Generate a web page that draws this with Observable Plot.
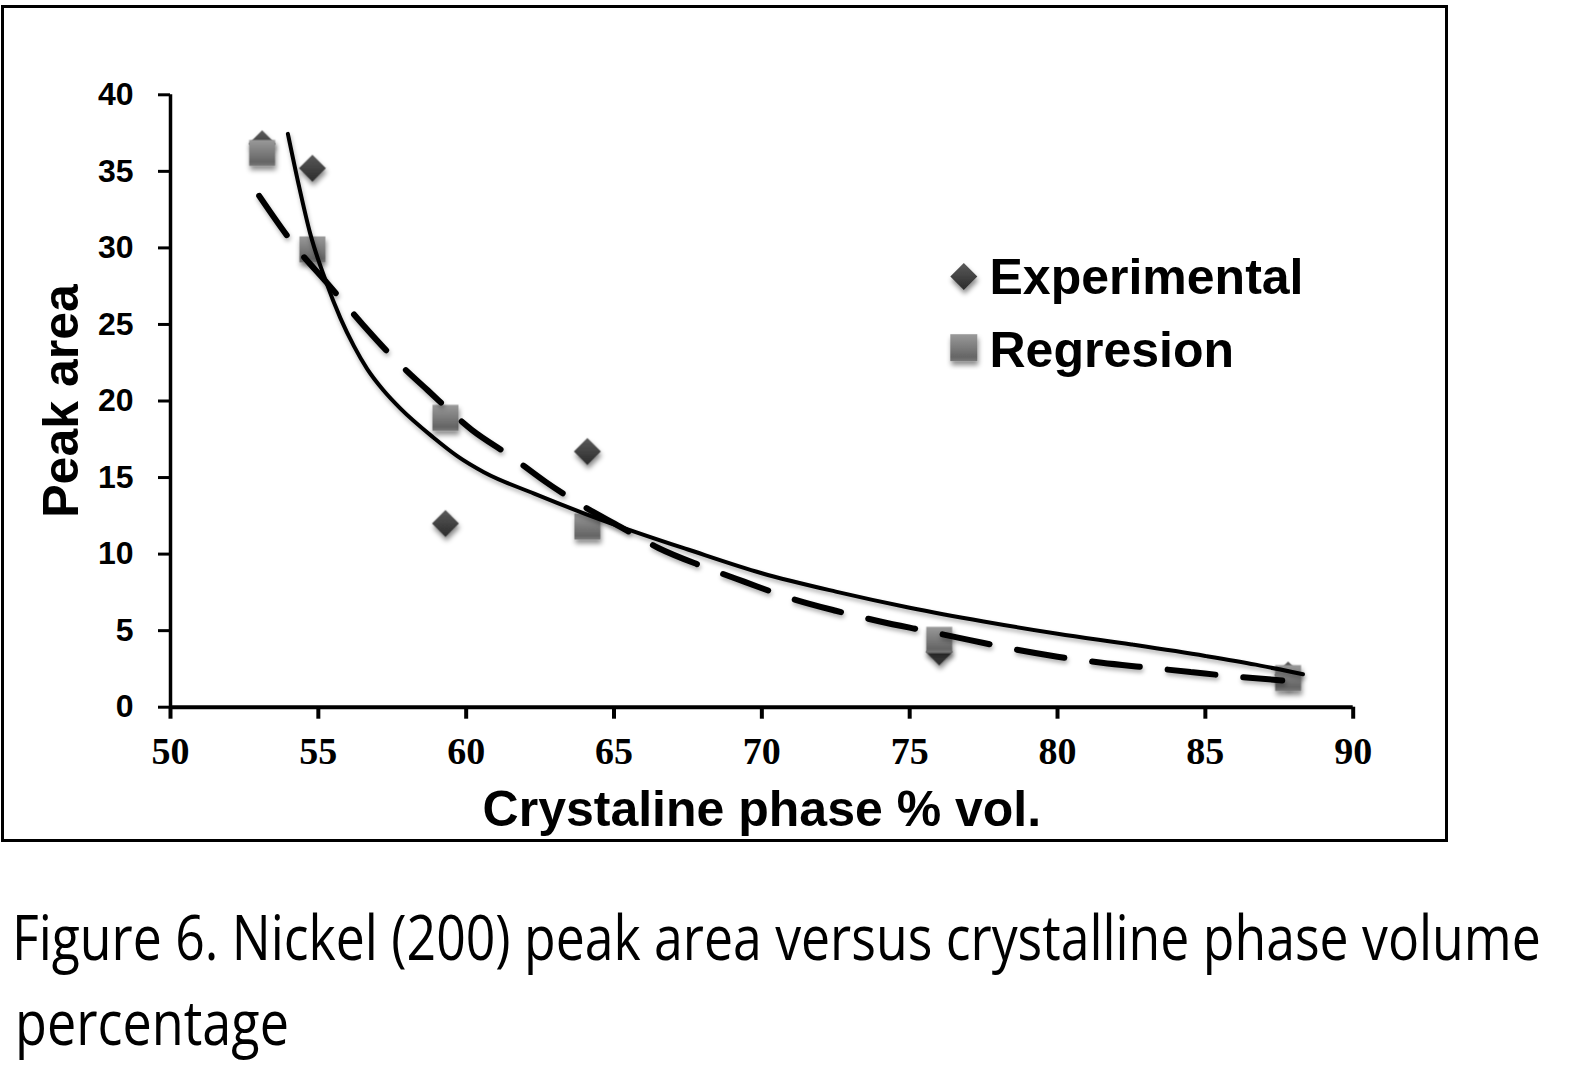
<!DOCTYPE html>
<html>
<head>
<meta charset="utf-8">
<script src="https://cdn.jsdelivr.net/npm/d3@7"></script>
<script src="https://cdn.jsdelivr.net/npm/@observablehq/plot@0.6"></script>
<style>
  html, body { margin: 0; padding: 0; background: #fff; }
  body { width: 1594px; height: 1082px; position: relative; overflow: hidden; }
  #frame { position: absolute; left: 1px; top: 5px; width: 1447px; height: 837px; border: 3px solid #000; box-sizing: border-box; }
  #chart { position: absolute; left: 0; top: 0; }
  #legend, #caption { position: absolute; left: 0; top: 0; overflow: visible; }
</style>
</head>
<body>
<div id="frame"></div>
<div id="chart"></div>
<svg id="legend" width="1594" height="1082"></svg>
<svg id="caption" width="1594" height="1082"></svg>
<script>
// ---- data ----
const crystalline = [53.1, 54.8, 59.3, 64.1, 76.0, 87.8];
const experimental = [36.8, 35.2, 12.0, 16.7, 3.6, 2.1];
const regression = [36.2, 29.9, 18.9, 11.8, 4.4, 1.9];

// solid trend line
const solidX = [53.97, 54.35, 54.73, 55.24, 55.75, 56.2, 56.65, 57.2, 57.78, 58.9, 59.7, 60.6, 62.3, 64.0, 65.2, 67.5, 70.0, 72.5, 75.0, 77.5, 80.0, 82.5, 85.0, 86.7, 88.3];
const solidY = [37.45, 34.0, 30.9, 27.9, 25.4, 23.6, 22.1, 20.7, 19.5, 17.6, 16.4, 15.35, 13.95, 12.65, 11.8, 10.3, 8.75, 7.55, 6.5, 5.6, 4.8, 4.1, 3.35, 2.78, 2.15];

// dashed trend line
const dashX = [53.0, 54.3, 55.3, 56.5, 57.6, 58.7, 60.2, 61.5, 62.7, 63.9, 65.2, 66.5, 68.0, 69.4, 71.0, 72.5, 74.0, 75.5, 77.0, 78.5, 80.0, 81.5, 83.0, 84.5, 86.0, 87.6];
const dashY = [33.4, 29.9, 27.7, 25.0, 22.7, 20.7, 18.1, 16.4, 14.7, 13.2, 11.8, 10.4, 9.2, 8.2, 7.1, 6.3, 5.6, 5.0, 4.4, 3.8, 3.3, 2.9, 2.6, 2.3, 2.0, 1.75];

const xTicks = [50, 55, 60, 65, 70, 75, 80, 85, 90];
const yTicks = [0, 5, 10, 15, 20, 25, 30, 35, 40];

const xTitle = "Crystaline phase % vol.";
const yTitle = "Peak area";
const seriesNames = ["Experimental", "Regresion"];
const captionLines = ["Figure 6. Nickel (200) peak area versus crystalline phase volume", "percentage"];

// ---- tables built from the arrays ----
const expRows = crystalline.map((x, i) => ({x, y: experimental[i]}));
const regRows = crystalline.map((x, i) => ({x, y: regression[i]}));
const solidRows = solidX.map((x, i) => ({x, y: solidY[i]}));
const dashRows = dashX.map((x, i) => ({x, y: dashY[i]}));

const sans = "'Liberation Sans', Arial, sans-serif";
const serif = "'Liberation Serif', 'Times New Roman', serif";

const chart = Plot.plot({
  width: 1450,
  height: 840,
  marginLeft: 170,
  marginRight: 97.3,
  marginTop: 94.3,
  marginBottom: 133.3,
  style: {background: "transparent", overflow: "visible", color: "#000"},
  x: {domain: [50, 90], label: null},
  y: {domain: [0, 40], label: null},
  marks: [
    Plot.axisY({ticks: yTicks, tickSize: 12, tickPadding: 25, strokeWidth: 3, fontSize: 32, fontWeight: "bold", fontFamily: sans, label: null}),
    Plot.axisX({ticks: xTicks, tickSize: 12, tickPadding: 18, strokeWidth: 4, fontSize: 38, fontWeight: "bold", fontFamily: serif, label: null}),
    Plot.ruleX([50], {strokeWidth: 3.5}),
    Plot.ruleY([0], {strokeWidth: 4}),
    Plot.dot(expRows, {x: "x", y: "y", symbol: "diamond2", r: 12.16, fill: "url(#gradDiamond)", stroke: "none"}),
    Plot.dot(regRows, {x: "x", y: "y", symbol: "square", r: 14.67, fill: "url(#gradSquare)", stroke: "none"}),
    Plot.line(dashRows, {x: "x", y: "y", curve: "monotone-x", stroke: "#000", strokeWidth: 6, strokeDasharray: "48,28", strokeLinecap: "round"}),
    Plot.line(solidRows, {x: "x", y: "y", curve: "monotone-x", stroke: "#000", strokeWidth: 4}),
    Plot.text([xTitle], {text: d => d, frameAnchor: "bottom", textAnchor: "middle", lineAnchor: "bottom", dy: 118.3, fontSize: 50, fontWeight: "bold", fontFamily: sans, fill: "#000"}),
    Plot.text([yTitle], {text: d => d, frameAnchor: "left", textAnchor: "middle", rotate: -90, lineAnchor: "bottom", dx: -93, fontSize: 50, fontWeight: "bold", fontFamily: sans, fill: "#000"})
  ]
});
document.getElementById("chart").appendChild(chart);

// gradients & soft shadows (Excel-like look)
const svg = d3.select(chart);
const defs = svg.insert("defs", ":first-child");
const gd = defs.append("linearGradient").attr("id", "gradDiamond").attr("x1", 0).attr("y1", 0).attr("x2", 0).attr("y2", 1);
gd.append("stop").attr("offset", "0%").attr("stop-color", "#5a5a5a");
gd.append("stop").attr("offset", "100%").attr("stop-color", "#2b2b2b");
const gs = defs.append("linearGradient").attr("id", "gradSquare").attr("x1", 0).attr("y1", 0).attr("x2", 0).attr("y2", 1);
gs.append("stop").attr("offset", "0%").attr("stop-color", "#9a9a9a");
gs.append("stop").attr("offset", "85%").attr("stop-color", "#656565");
gs.append("stop").attr("offset", "100%").attr("stop-color", "#7a7a7a");
const f = defs.append("filter").attr("id", "shadow").attr("x", "-30%").attr("y", "-30%").attr("width", "160%").attr("height", "160%");
f.append("feDropShadow").attr("dx", 1).attr("dy", 4).attr("stdDeviation", 2.5).attr("flood-color", "#000").attr("flood-opacity", 0.45);
const fl = defs.append("filter").attr("id", "shadowLine").attr("x", "-5%").attr("y", "-5%").attr("width", "110%").attr("height", "110%");
fl.append("feDropShadow").attr("dx", 1).attr("dy", 3).attr("stdDeviation", 2).attr("flood-color", "#000").attr("flood-opacity", 0.3);
svg.selectAll('g[aria-label="dot"]').attr("filter", "url(#shadow)");
svg.selectAll('g[aria-label="line"]').attr("filter", "url(#shadowLine)");

// legend (inside the chart frame)
const legend = d3.select("#legend");
const legendItems = [
  {name: seriesNames[0], symbol: d3.symbolDiamond2, size: 464.7, fill: "url(#gradDiamond)", cy: 276.5, baseline: 294},
  {name: seriesNames[1], symbol: d3.symbolSquare, size: 729, fill: "url(#gradSquare)", cy: 347.7, baseline: 366.7}
];
for (const it of legendItems) {
  legend.append("path")
    .attr("transform", `translate(963.8,${it.cy})`)
    .attr("d", d3.symbol(it.symbol, it.size)())
    .attr("fill", it.fill)
    .attr("filter", "url(#shadow)");
  legend.append("text")
    .attr("x", 989.5).attr("y", it.baseline)
    .attr("font-family", sans).attr("font-weight", "bold").attr("font-size", 50)
    .attr("fill", "#000")
    .text(it.name);
}

// caption below the chart (condensed humanist face, like the original)
const cap = d3.select("#caption");
const capSpecs = [
  {text: captionLines[0], x: 12, y: 960, width: 1529},
  {text: captionLines[1], x: 15, y: 1045, width: 274}
];
for (const c of capSpecs) {
  const g = cap.append("g");
  const t = g.append("text").attr("x", 0).attr("y", 0)
    .attr("font-family", "'Open Sans', 'Noto Sans', sans-serif").attr("font-size", 62).attr("fill", "#000")
    .text(c.text);
  const len = t.node().getComputedTextLength();
  g.attr("transform", `translate(${c.x},${c.y}) scale(${c.width / len},1)`);
}
</script>
</body>
</html>
